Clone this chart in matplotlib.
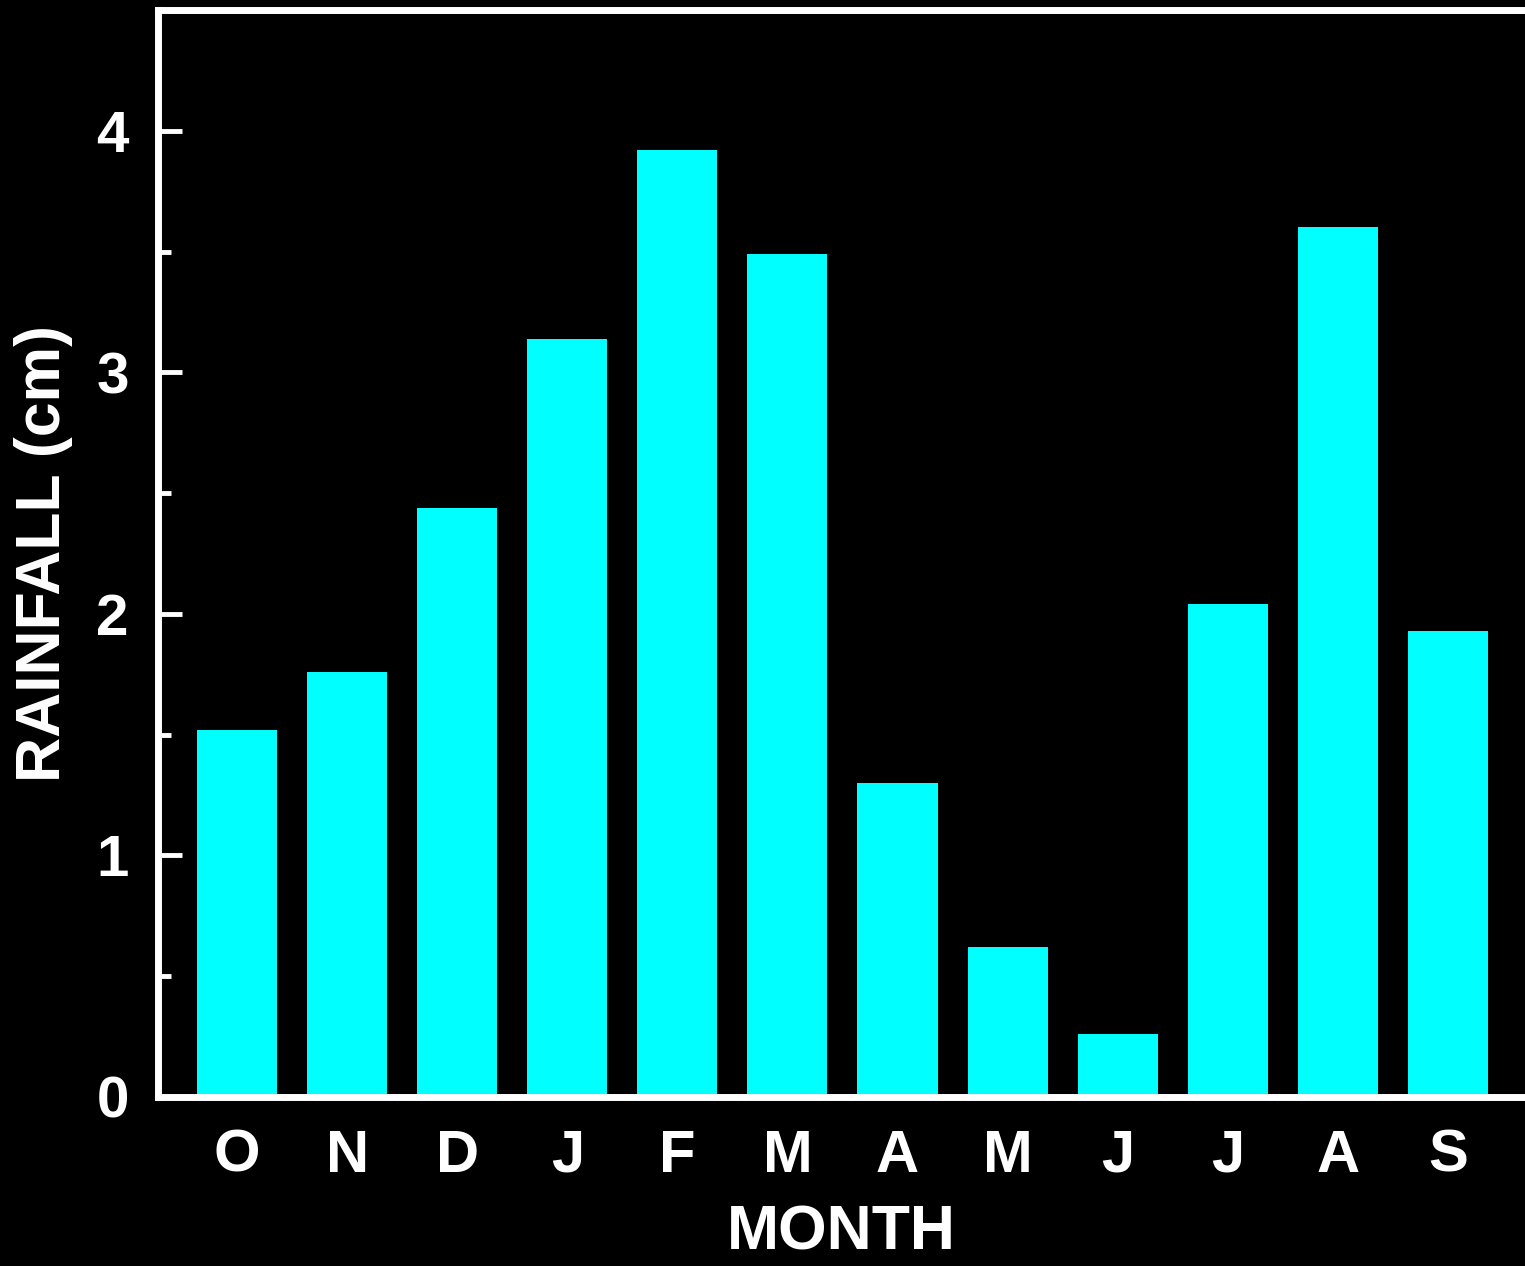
import numpy as np
from matplotlib import pyplot as plt
from matplotlib.ticker import MultipleLocator

months = ['O', 'N', 'D', 'J', 'F', 'M', 'A', 'M', 'J', 'J', 'A', 'S']
rainfall = [1.52, 1.76, 2.44, 3.14, 3.92, 3.49, 1.30, 0.62, 0.26, 2.04, 3.60, 1.93]

plt.rcParams['font.family'] = ['Liberation Sans', 'DejaVu Sans']
plt.rcParams['font.weight'] = 'bold'

fig = plt.figure(figsize=(15.25, 12.66), dpi=100, facecolor='black')
ax = fig.add_axes([158 / 1525, 1 - 1097 / 1266, 1 - 158 / 1525, (1097 - 10) / 1266])
ax.set_facecolor('black')

x = np.arange(len(months))
ax.bar(x, rainfall, width=0.727, color='#00ffff')

ax.set_xlim(-0.7175, 11.70)
ax.set_ylim(0, 4.5)
ax.yaxis.set_major_locator(MultipleLocator(1))
ax.yaxis.set_minor_locator(MultipleLocator(0.5))
ax.set_xticks(x)
ax.set_xticklabels(months)

for s in ax.spines.values():
    s.set_color('white')
    s.set_linewidth(5)
ax.spines['right'].set_visible(False)

ax.tick_params(axis='y', which='major', direction='in', length=17, width=3.5,
               color='white', labelcolor='white', labelsize=42, pad=21)
ax.tick_params(axis='y', which='minor', direction='in', length=9, width=3.5, color='white')
ax.tick_params(axis='x', length=0, labelcolor='white', labelsize=43, pad=23)

ax.set_xlabel('MONTH', color='white', fontsize=45, fontweight='bold', labelpad=14)
ax.set_ylabel('RAINFALL (cm)', color='white', fontsize=45, fontweight='bold', labelpad=17)

fig.savefig('out.png', dpi=100, facecolor='black')
